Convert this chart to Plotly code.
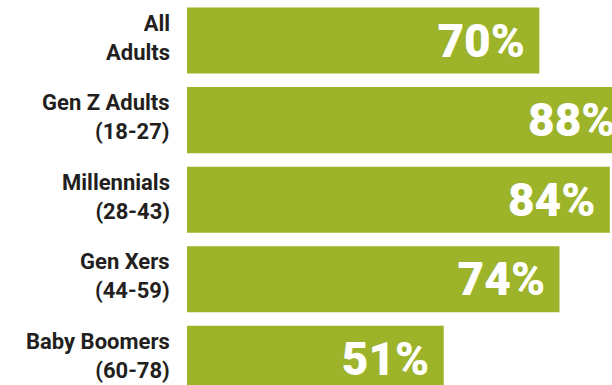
import plotly.graph_objects as go

# Share of adults in each generation
groups = ["All", "Gen Z Adults", "Millennials", "Gen Xers", "Baby Boomers"]
ages = ["Adults", "(18-27)", "(28-43)", "(44-59)", "(60-78)"]
values = [70, 88, 84, 74, 51]

BAR_COLOR = "#9CB32A"
LABEL_COLOR = "#231F20"
pos = list(range(len(values)))

fig = go.Figure(
    go.Bar(
        x=values,
        y=pos,
        orientation="h",
        width=0.83,
        marker=dict(color=BAR_COLOR, line=dict(width=0)),
        text=[f"{v}%\u00a0" for v in values],
        textposition="inside",
        insidetextanchor="end",
        constraintext="none",
        textfont=dict(family="Roboto", size=46, color="white", weight=900),
        hoverinfo="skip",
    )
)

# Two-line category labels to the left of each bar
annotations = [
    dict(
        xref="paper", x=0, xshift=-15, xanchor="right",
        yref="y", y=i, yshift=3, yanchor="middle", align="right",
        text=f"{groups[i]}<br>{ages[i]}", showarrow=False,
        font=dict(family="Roboto, sans-serif", size=22,
                  color=LABEL_COLOR, weight="bold"),
    )
    for i in pos
]

fig.update_layout(
    width=612,
    height=385,
    margin=dict(l=187, r=0, t=0, b=0),
    paper_bgcolor="white",
    plot_bgcolor="white",
    showlegend=False,
    annotations=annotations,
    xaxis=dict(range=[0, 84.43], visible=False, fixedrange=True),
    yaxis=dict(range=[4.33, -0.51], visible=False, fixedrange=True),
)

fig.write_html("out.html", config={"displayModeBar": False})
